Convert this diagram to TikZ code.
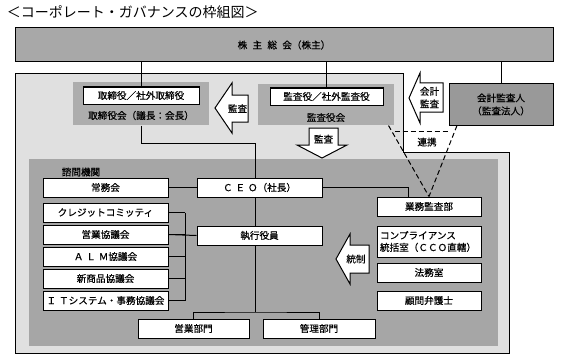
\documentclass[tikz,border=0pt]{standalone}
\usepackage{fontspec}
\setmainfont{Noto Sans CJK JP}[FakeBold=0.5]
\newfontfamily\titlefont{Noto Sans CJK JP}
\newcommand{\kgap}{\hspace{0.55em}}
\newcommand{\lgap}{\hspace{0.3em}}
\definecolor{agmgray}{gray}{0.66}
\definecolor{regiongray}{gray}{0.88}
\definecolor{innergray}{gray}{0.65}
\definecolor{boardgray}{gray}{0.68}
\definecolor{extgray}{gray}{0.6}
\begin{document}
\begin{tikzpicture}[x=1pt,y=-1pt,line width=1pt,
  font=\fontsize{9.6}{11.5}\selectfont,
  wbox/.style={draw,fill=white,inner sep=1pt,minimum height=19pt},
  graybox/.style={fill=boardgray,inner sep=0pt},
  arrowshape/.style={draw,fill=white,line join=miter},
  linkline/.style={dash pattern=on 5pt off 3pt}]
\useasboundingbox (0,0) rectangle (565,361);
\node[anchor=west,font=\titlefont\fontsize{14}{16}\selectfont] (title) at (3,12) {＜コーポレート・ガバナンスの枠組図＞};
% shareholders meeting
\node[draw,fill=agmgray,minimum width=538pt,minimum height=34pt] (agm) at (284,45) {株\kgap 主\kgap 総\kgap 会（株主）};
% board region and executive region
\draw[fill=regiongray] (15,74) -- (403,74) -- (403,152) -- (509,152) -- (509,353) -- (15,353) -- cycle;
\fill[innergray] (29,159) rectangle (498,346);
% board of directors
\node[graybox,minimum width=136pt,minimum height=43pt] (board) at (141,103.5) {};
\node[wbox,minimum width=116pt,minimum height=17pt] (dir) at (141,95.5) {取締役／社外取締役};
\node (boardlbl) at (141,115.5) {取締役会（議長：会長）};
% board of auditors
\node[graybox,minimum width=136pt,minimum height=41pt] (audgray) at (326,104.5) {};
\node[wbox,minimum width=113pt,minimum height=17pt] (aud) at (326.5,96.5) {監査役／社外監査役};
\node (audlbl) at (326,117.5) {監査役会};
% accounting auditor
\node[draw,fill=extgray,minimum width=104pt,minimum height=41pt,align=center,font=\fontsize{9.6}{13}\selectfont] (ext) at (501,104.5) {会計監査人\\（監査法人）};
% lines from the shareholders meeting
\draw (dir.north) -- (dir.north |- agm.south);
\draw (aud.north) -- (aud.north |- agm.south);
\draw (ext.north) -- (ext.north |- agm.south);
% block arrows
\draw[arrowshape] (215,108) -- (232,83) -- (232,95) -- (248,95) -- (248,122) -- (232,122) -- (232,133) -- cycle;
\node (arr1) at (237.5,108.5) {監査};
\draw[arrowshape] (409,98) -- (420,73) -- (420,83) -- (443,83) -- (443,112) -- (420,112) -- (420,123) -- cycle;
\node[align=center,font=\fontsize{9.6}{12.5}\selectfont] (arr2) at (429.5,97.5) {会計\\監査};
\draw[arrowshape] (309,128) -- (338,128) -- (338,145) -- (347,145) -- (322,158) -- (297,145) -- (309,145) -- cycle;
\node (arr3) at (323.5,139) {監査};
\draw[arrowshape] (336,259) -- (350,234) -- (350,245) -- (369,245) -- (369,273) -- (350,273) -- (350,284) -- cycle;
\node (arr4) at (356,259) {統制};
% advisory bodies
\node[anchor=west] (advlbl) at (58,172) {諮問機関};
\node[wbox,minimum width=125pt] (joumu) at (105.5,187.5) {常務会};
\node[wbox,minimum width=125pt] (credit) at (105.5,212.5) {クレジットコミッティ};
\node[wbox,minimum width=125pt] (sales) at (105.5,234.5) {営業協議会};
\node[wbox,minimum width=125pt] (alm) at (105.5,256.5) {Ａ\lgap Ｌ\lgap Ｍ協議会};
\node[wbox,minimum width=125pt] (newprod) at (105.5,278.5) {新商品協議会};
\node[wbox,minimum width=125pt] (itsys) at (105.5,300.5) {Ｉ\lgap Ｔシステム・事務協議会};
% executives
\node[wbox,minimum width=125pt] (ceo) at (259.5,187.5) {Ｃ\lgap Ｅ\lgap Ｏ（社長）};
\node[wbox,minimum width=125pt] (exec) at (259.5,235.5) {執行役員};
\node[wbox,minimum width=111pt] (eigyo) at (193.5,328.5) {営業部門};
\node[wbox,minimum width=112pt] (kanri) at (319,328.5) {管理部門};
% internal audit and compliance
\node[wbox,minimum width=104pt] (gyomu) at (429,206.5) {業務監査部};
\node[wbox,minimum width=104pt,minimum height=31pt,align=left,text width=98pt,font=\fontsize{9.6}{12}\selectfont] (comp) at (429,241.5) {コンプライアンス\\統括室（ＣＣＯ直轄）};
\node[wbox,minimum width=104pt] (houmu) at (429,272.5) {法務室};
\node[wbox,minimum width=104pt] (komon) at (429,300.5) {顧問弁護士};
% connectors
\coordinate (spine) at (255,0);
\coordinate (brk) at (185,0);
\coordinate (split) at (255,312);
\draw (board.south) -- ++(0,18) -| (spine |- ceo.north);
\draw (joumu.east) -- (ceo.west |- joumu.east);
\draw (spine |- ceo.south) -- (spine |- exec.north);
\draw (ceo.east) -| ([xshift=-21pt]gyomu.north);
\foreach \n in {credit,sales,alm,newprod,itsys}
  \draw (\n.east) -- (\n.east -| brk);
\draw (brk |- credit.east) -- (brk |- itsys.east);
\draw (sales.east) -- (exec.west);
\draw (spine |- exec.south) -- (split);
\draw (eigyo.north) |- (split) -| (kanri.north);
% cooperation
\draw[linkline] ([yshift=-6pt]audgray.south east) -- ([yshift=-6pt]audgray.south east -| ext.west);
\draw[linkline] ([xshift=-6pt]audgray.south east) -- (gyomu.north);
\draw[linkline] ([xshift=-44pt]ext.south) -- (gyomu.north);
\node (linklbl) at (427,142) {連携};
\end{tikzpicture}
\end{document}
